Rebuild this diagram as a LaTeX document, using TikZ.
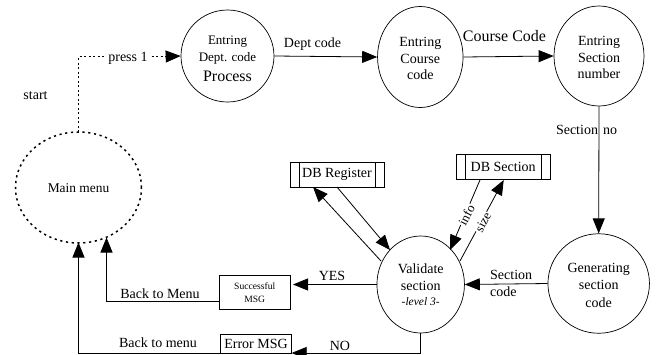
\documentclass[tikz,border=0pt]{standalone}
\usepackage{fontspec}
\setmainfont{Liberation Serif}
\usetikzlibrary{arrows.meta,shapes.geometric}
\tikzset{
  x=1pt,y=-1pt,
  every node/.style={font=\fontsize{14}{16.7}\selectfont,align=center,inner sep=0pt},
  proc/.style={draw=black,ellipse,line width=0.7pt},
  flow/.style={draw=black,line width=0.8pt,-{Triangle[length=15pt,width=12pt,fill=black]}},
  boxn/.style={draw=black,line width=0.7pt},
  lab/.style={font=\fontsize{14}{16.7}\selectfont},
  wlab/.style={lab,fill=white,inner sep=1pt}
}
\begin{document}
\begin{tikzpicture}
\useasboundingbox (0,0) rectangle (657,354);
% process circles
\node[proc,minimum width=93pt,minimum height=92pt,inner sep=0pt] (dept) at (227.5,56) {};
\node[font=\fontsize{13}{16.3}\selectfont] (t1) at (227.5,50) {Entring\\Dept. code};
\node[font=\fontsize{16}{18}\selectfont] (t2) at (227.5,76) {Process};
\node[proc,minimum width=85.5pt,minimum height=101pt] (course) at (420.3,57) {};
\node[lab] (t3) at (420.3,58.5) {Entring\\Course\\code};
\node[proc,minimum width=90pt,minimum height=100pt] (secnum) at (599,56) {};
\node[lab] (t4) at (599,57.5) {Entring\\Section\\number};
\node[proc,line width=1.5pt,dash pattern=on 2.2pt off 3.6pt,minimum width=126pt,minimum height=111pt] (menu) at (78.5,187.5) {};
\node[font=\fontsize{13.4}{16}\selectfont] (t5) at (78.5,188) {Main menu};
\node[proc,minimum width=87.5pt,minimum height=97pt] (valid) at (420.7,284.5) {};
\node[lab] (t6) at (420.7,277) {Validate\\section};
\node[font=\itshape\fontsize{11.5}{13}\selectfont] (lvl) at (420.7,302) {-level 3-};
\node[proc,minimum width=101.5pt,minimum height=99.5pt] (gen) at (598.7,283.5) {};
\node[lab,font=\fontsize{14}{17.5}\selectfont] (t7) at (598.7,285) {Generating\\section\\code};
% stores
\node[boxn,minimum width=94pt,minimum height=25pt] (reg) at (337,174.5) {DB Register};
\draw[boxn] (299.5,162) -- (299.5,187) (375.7,162) -- (375.7,187);
\node[boxn,minimum width=93.7pt,minimum height=25.7pt] (sect) at (503.2,166.8) {DB Section};
\draw[boxn] (465.7,154) -- (465.7,179.7) (541,154) -- (541,179.7);
\node[boxn,minimum width=70.7pt,minimum height=33.7pt,font=\fontsize{9.6}{13}\selectfont] (succ) at (254.7,292.2) {Successful\\MSG};
\node[boxn,minimum width=70.6pt,minimum height=19.5pt] (err) at (256,344) {Error MSG};
% anchors
\coordinate (mm1) at (106.5,237.5);
\coordinate (mm2) at (78.5,242.5);
\coordinate (c1) at (78.5,56.5);
\coordinate (c0) at (78.5,132);
\coordinate (c5) at (166,56.5);
\coordinate (c2) at (106.5,301);
\coordinate (c3) at (78.5,353);
\coordinate (c4) at (420.7,353);
\coordinate (vs) at (293,284.5);
% connectors
\draw[line width=0.8pt,dash pattern=on 2pt off 2.5pt] (c0) -- (c1) -- (c5);
\draw[flow] (c5) -- (dept.west);
\node[wlab] (pr) at (128,58) {press 1};
\draw[flow] (dept.east) -- (course.west);
\draw[flow] (course.east) -- (secnum.west);
\draw[flow] (secnum.south) -- (gen.north);
\draw[flow] (gen.west) -- (valid.east);
\draw[flow] (valid.west) -- (vs);
\draw[flow] (succ.west |- c2) -- (c2) -- (mm1);
\draw[flow] (err.west |- c3) -- (c3) -- (mm2);
\draw[flow] (valid.south) -- (c4) -- (err.east |- c4);
\coordinate (r1) at (381,261);
\coordinate (r2) at (313,187);
\coordinate (r3) at (337,187);
\coordinate (r4) at (390,250);
\draw[flow] (r1) -- (r2);
\draw[flow] (r3) -- (r4);
\coordinate (s1) at (480,180);
\coordinate (s2) at (450,250);
\coordinate (s3) at (460,261);
\coordinate (s4) at (503.7,180);
\draw[flow] (s1) -- (s2);
\draw[flow] (s3) -- (s4);
% labels
\node[lab] (l1) at (35.5,96) {start};
\node[lab] (l2) at (312.5,44) {Dept code};
\node[font=\fontsize{16}{18}\selectfont] (l3) at (504.5,36) {Course Code};
\node[lab] (l4) at (586.5,129.5) {Section\hspace{5pt}no};
\node[lab] (l5) at (160,293.5) {Back to Menu};
\node[lab] (l6) at (158,343) {Back to menu};
\node[lab] (l7) at (332,276) {YES};
\node[lab] (l8) at (340,346) {NO};
\node[lab,anchor=west] (l9) at (490,274.5) {Section};
\node[lab,anchor=west] (l10) at (490,291.5) {code};
\node[wlab,rotate=62,font=\fontsize{13}{15}\selectfont] (l11) at (466.5,215) {info};
\node[wlab,rotate=62,font=\fontsize{13}{15}\selectfont] (l12) at (483,222.5) {size};
\end{tikzpicture}
\end{document}
